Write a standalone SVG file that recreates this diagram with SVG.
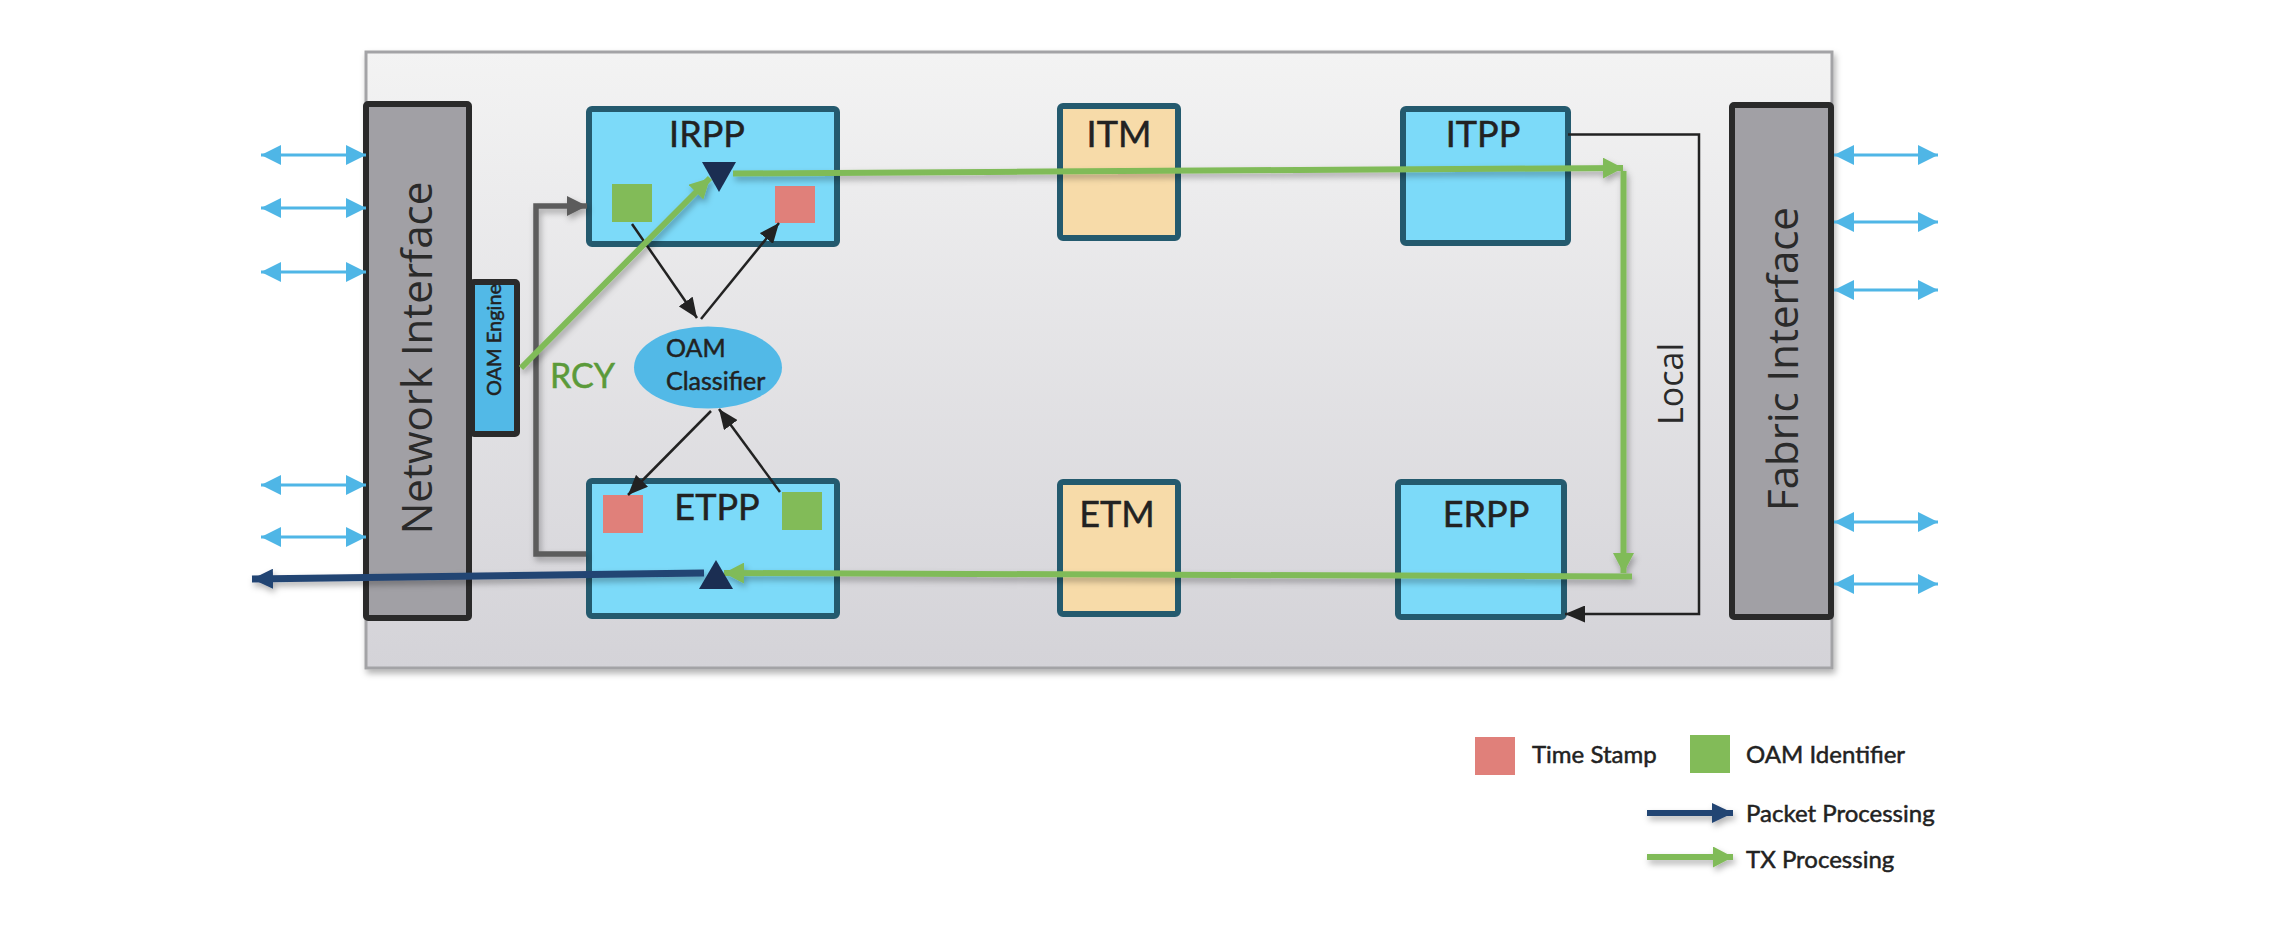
<svg xmlns="http://www.w3.org/2000/svg" width="2284" height="940" viewBox="0 0 2284 940">
<defs>
<linearGradient id="bg" x1="0" y1="0" x2="0" y2="1">
<stop offset="0" stop-color="#f3f3f3"/>
<stop offset="1" stop-color="#d4d3d8"/>
</linearGradient>
<filter id="sh" filterUnits="userSpaceOnUse" x="0" y="0" width="2284" height="940">
<feDropShadow dx="2" dy="4" stdDeviation="3" flood-color="#000" flood-opacity="0.3"/>
</filter>
<marker id="mBlue" markerUnits="userSpaceOnUse" markerWidth="20" markerHeight="20" refX="20" refY="10" orient="auto-start-reverse" viewBox="0 0 20 20">
<path d="M0,0 L20,10 L0,20 z" fill="#4fb6e6"/>
</marker>
<marker id="mGreen" markerUnits="userSpaceOnUse" markerWidth="20" markerHeight="21" refX="20" refY="10.5" orient="auto" viewBox="0 0 20 21">
<path d="M0,0 L20,10.5 L0,21 z" fill="#80bb58"/>
</marker>
<marker id="mNavy" markerUnits="userSpaceOnUse" markerWidth="21" markerHeight="20" refX="21" refY="10" orient="auto" viewBox="0 0 21 20">
<path d="M0,0 L21,10 L0,20 z" fill="#234473"/>
</marker>
<marker id="mGray" markerUnits="userSpaceOnUse" markerWidth="20" markerHeight="20" refX="20" refY="10" orient="auto" viewBox="0 0 20 20">
<path d="M0,0 L20,10 L0,20 z" fill="#5c5c5c"/>
</marker>
<marker id="mBlack" markerUnits="userSpaceOnUse" markerWidth="20" markerHeight="17" refX="20" refY="8.5" orient="auto" viewBox="0 0 20 17">
<path d="M0,0 L20,8.5 L0,17 z" fill="#222"/>
</marker>
</defs>
<style>
.blk { fill:#7cdaf9; stroke:#245a6e; stroke-width:6; }
.tm { fill:#f7dba9; stroke:#245a6e; stroke-width:6; }
.ifc { fill:#a1a0a5; stroke:#2a2a2a; stroke-width:6; }
.lbl { font-family:Lato, "Liberation Sans", sans-serif; fill:#222; stroke:#222; stroke-width:0.5; }
.big { font-family:"Open Sans", "DejaVu Sans", sans-serif; fill:#2a2a2a; }
.bi { stroke:#4fb6e6; stroke-width:3; marker-start:url(#mBlue); marker-end:url(#mBlue); }
.gr { stroke:#80bb58; stroke-width:6; fill:none; }
.bk { stroke:#222; stroke-width:2.5; fill:none; marker-end:url(#mBlack); }
.red { fill:#e0807a; }
.grn { fill:#82bb58; }
.rcy { font-family:Lato, "Liberation Sans", sans-serif; fill:#5b9a3a; stroke:#5b9a3a; stroke-width:0.5; }
</style>

<g id="chassis">
<rect x="366" y="52" width="1466" height="616" fill="url(#bg)" stroke="#a3a3a6" stroke-width="3" filter="url(#sh)"/>
</g>

<g id="network-interface">
<rect class="ifc" x="366" y="104" width="103" height="514" rx="2"/>
<text class="big" font-size="42" text-anchor="middle" transform="translate(418,358) rotate(-90)" y="14">Network Interface</text>
</g>

<g id="oam-engine">
<rect x="472" y="282" width="45" height="152" fill="#52b9e7" stroke="#2a2a2a" stroke-width="6" rx="2"/>
<text class="lbl" font-size="20" text-anchor="middle" transform="translate(501,340) rotate(-90)">OAM Engine</text>
</g>

<g id="fabric-interface">
<rect class="ifc" x="1732" y="105" width="99" height="512" rx="2"/>
<text class="big" font-size="42" text-anchor="middle" transform="translate(1783,359) rotate(-90)" y="15">Fabric Interface</text>
</g>

<g id="irpp">
<rect class="blk" x="589" y="109" width="248" height="135" rx="3"/>
<text class="lbl" font-size="36" text-anchor="middle" x="707" y="147">IRPP</text>
<rect class="grn" x="612" y="184" width="40" height="38"/>
<rect class="red" x="775" y="186" width="40" height="37"/>
</g>

<g id="itm">
<rect class="tm" x="1060" y="106" width="118" height="132" rx="3"/>
<text class="lbl" font-size="36" text-anchor="middle" x="1119" y="147">ITM</text>
</g>

<g id="itpp">
<rect class="blk" x="1403" y="109" width="165" height="134" rx="3"/>
<text class="lbl" font-size="36" text-anchor="middle" x="1483" y="147">ITPP</text>
</g>

<g id="etpp">
<rect class="blk" x="589" y="481" width="248" height="135" rx="3"/>
<text class="lbl" font-size="36" text-anchor="middle" x="717" y="520">ETPP</text>
<rect class="red" x="603" y="495" width="40" height="38"/>
<rect class="grn" x="782" y="492" width="40" height="38"/>
</g>

<g id="etm">
<rect class="tm" x="1060" y="482" width="118" height="132" rx="3"/>
<text class="lbl" font-size="36" text-anchor="middle" x="1117" y="527">ETM</text>
</g>

<g id="erpp">
<rect class="blk" x="1398" y="482" width="166" height="135" rx="3"/>
<text class="lbl" font-size="36" text-anchor="middle" x="1486" y="527">ERPP</text>
</g>

<g id="oam-classifier">
<ellipse cx="708" cy="367.5" rx="74" ry="41" fill="#52b9e7"/>
<text class="lbl" font-size="25" x="666" y="357">OAM</text>
<text class="lbl" font-size="25" x="666" y="390">Classifier</text>
</g>

<g id="ports">
<line class="bi" x1="261" y1="155" x2="366" y2="155"/>
<line class="bi" x1="261" y1="208" x2="366" y2="208"/>
<line class="bi" x1="261" y1="272" x2="366" y2="272"/>
<line class="bi" x1="261" y1="485" x2="366" y2="485"/>
<line class="bi" x1="261" y1="537" x2="366" y2="537"/>
<line class="bi" x1="1834" y1="155" x2="1938" y2="155"/>
<line class="bi" x1="1834" y1="222" x2="1938" y2="222"/>
<line class="bi" x1="1834" y1="290" x2="1938" y2="290"/>
<line class="bi" x1="1834" y1="522" x2="1938" y2="522"/>
<line class="bi" x1="1834" y1="584" x2="1938" y2="584"/>
</g>

<g id="connectors">
<polyline points="586,554 536,554 536,206 587,206" fill="none" stroke="#5c5c5c" stroke-width="5.5" marker-end="url(#mGray)" filter="url(#sh)"/>
<polyline points="1568,134.5 1699,134.5 1699,614 1565,614" fill="none" stroke="#222" stroke-width="2.5" marker-end="url(#mBlack)"/>
<line class="bk" x1="632" y1="224" x2="697" y2="318"/>
<line class="bk" x1="701" y1="319" x2="779" y2="223"/>
<line class="bk" x1="711" y1="411" x2="628" y2="495"/>
<line class="bk" x1="780" y1="492" x2="719" y2="409"/>
<g filter="url(#sh)">
<line class="gr" x1="521" y1="368" x2="710" y2="178" marker-end="url(#mGreen)"/>
<line class="gr" x1="733" y1="173.5" x2="1623" y2="168" marker-end="url(#mGreen)"/>
<line class="gr" x1="1623.5" y1="171" x2="1623.5" y2="573" marker-end="url(#mGreen)"/>
<line class="gr" x1="1632" y1="576.5" x2="724" y2="573" marker-end="url(#mGreen)"/>
<line x1="704" y1="573" x2="252" y2="579" stroke="#234473" stroke-width="7" marker-end="url(#mNavy)"/>
</g>
<text class="rcy" font-size="34" x="550" y="388">RCY</text>
<text class="big" font-size="34" text-anchor="middle" transform="translate(1683,384) rotate(-90)">Local</text>
</g>

<g id="pointers">
<polygon points="702,162 736,162 719,192" fill="#1b2e52"/>
<polygon points="716,560 699,589 733,589" fill="#1b2e52"/>
</g>

<g id="legend">
<rect class="red" x="1475" y="737" width="40" height="38"/>
<text class="lbl" font-size="24" x="1532" y="763">Time Stamp</text>
<rect class="grn" x="1690" y="735" width="40" height="38"/>
<text class="lbl" font-size="24" x="1746" y="763">OAM Identifier</text>
<g filter="url(#sh)">
<line x1="1647" y1="813" x2="1733" y2="813" stroke="#234473" stroke-width="6" marker-end="url(#mNavy)"/>
<line x1="1647" y1="857" x2="1733" y2="857" stroke="#80bb58" stroke-width="6" marker-end="url(#mGreen)"/>
</g>
<text class="lbl" font-size="24" x="1746" y="822">Packet Processing</text>
<text class="lbl" font-size="24" x="1746" y="868">TX Processing</text>
</g>
</svg>
